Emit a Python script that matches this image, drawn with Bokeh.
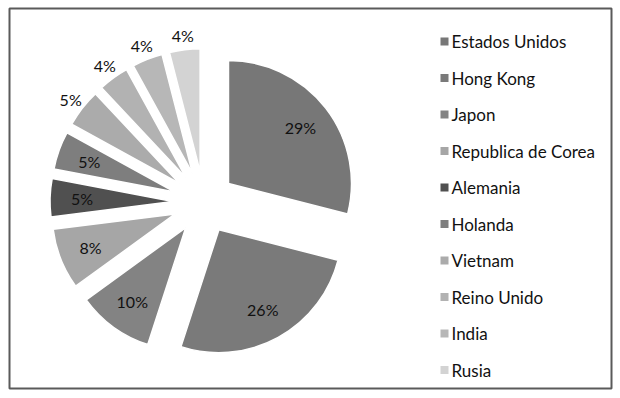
import math
from bokeh.plotting import figure
from bokeh.models import Range1d, ColumnDataSource
from bokeh.core.properties import value
from bokeh.embed import file_html
from bokeh.resources import INLINE

# Export destinations and their shares (%)
countries = ["Estados Unidos", "Hong Kong", "Japon", "Republica de Corea", "Alemania",
             "Holanda", "Vietnam", "Reino Unido", "India", "Rusia"]
shares = [29, 26, 10, 8, 5, 5, 5, 4, 4, 4]
colors = ["#777777", "#7a7a7a", "#838383", "#a6a6a6", "#505050",
          "#7e7e7e", "#ababab", "#b2b2b2", "#b7b7b7", "#d3d3d3"]
# which labels sit outside the slice
label_outside = [False, False, False, False, False, False, True, True, True, True]

W, H = 620, 398
left, right, top, bottom = 9, 9, 8, 10

p = figure(width=W, height=H, output_backend="svg", toolbar_location=None,
           x_range=Range1d(left, W - right), y_range=Range1d(bottom, H - top),
           min_border_left=left, min_border_right=right,
           min_border_top=top, min_border_bottom=bottom)
p.axis.visible = False
p.grid.visible = False
p.outline_line_color = "#5a5a5a"
p.outline_line_width = 2
p.background_fill_color = "white"
p.border_fill_color = "white"

# pie geometry (screen pixels, y measured upward)
cx, cy = 203.5, H - 202
R = 123
explode = 31

total = sum(shares)
starts, ends, xs, ys, lx, ly, labels = [], [], [], [], [], [], []
cum = 0.0
for s, out in zip(shares, label_outside):
    a0 = math.pi / 2 - 2 * math.pi * cum / total
    cum += s
    a1 = math.pi / 2 - 2 * math.pi * cum / total
    mid = (a0 + a1) / 2
    ox = cx + explode * math.cos(mid)
    oy = cy + explode * math.sin(mid)
    starts.append(a0)
    ends.append(a1)
    xs.append(ox)
    ys.append(oy)
    rr = R * (1.12 if out else 0.74)
    lx.append(ox + rr * math.cos(mid))
    ly.append(oy + rr * math.sin(mid))
    labels.append(f"{s}%")

src = ColumnDataSource(dict(x=xs, y=ys, start=starts, end=ends, color=colors,
                            lx=lx, ly=ly, label=labels))
p.wedge(x="x", y="y", radius=R, start_angle="start", end_angle="end",
        direction="clock", fill_color="color", line_color="white", line_width=1.5,
        source=src)
p.text(x="lx", y="ly", text="label", source=src, text_align="center",
       text_baseline="middle", text_font=value("Lato"), text_font_size="16px",
       text_color="#111111")

# legend
leg_y = [H - (41 + i * 36.5) for i in range(len(countries))]
leg = ColumnDataSource(dict(y=leg_y, name=countries, color=colors))
p.scatter(x=444, y="y", marker="square", size=8, fill_color="color",
          line_color=None, source=leg)
p.text(x=451, y="y", text="name", source=leg, text_align="left",
       text_baseline="middle", text_font=value("Lato"), text_font_size="17px",
       text_color="#111111")

open("out.html", "w").write(file_html(p, INLINE))
